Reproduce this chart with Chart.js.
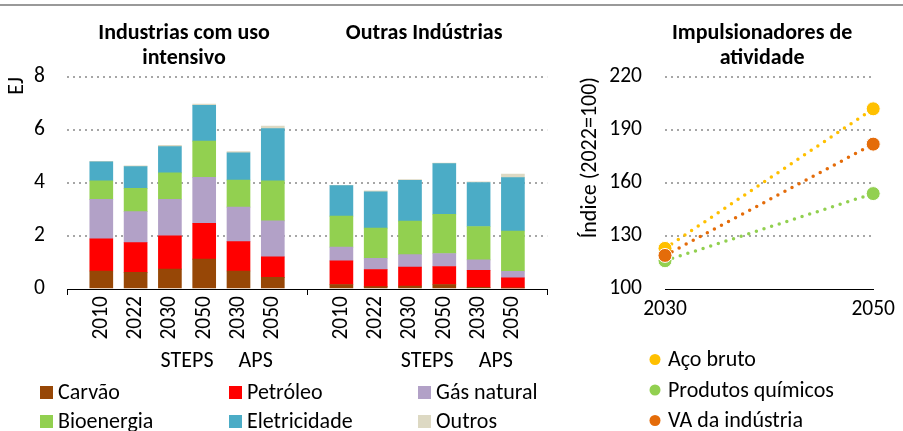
<!DOCTYPE html>
<html><head><meta charset="utf-8">
<script src="https://cdn.jsdelivr.net/npm/chart.js@4/dist/chart.umd.min.js"></script>
<style>
body{margin:0;width:903px;height:431px;overflow:hidden;background:#fff;font-family:Carlito,Lato,sans-serif;color:#000}
#topline{position:absolute;left:0;top:4px;width:903px;height:2px;background:#999;z-index:2}
canvas{position:absolute;top:0}
</style></head>
<body>
<div id="topline"></div>
<canvas id="bars" width="580" height="431" style="left:0"></canvas>
<canvas id="lines" width="343" height="431" style="left:560px"></canvas>
<script>
// ---- data ----
const categories = ['', '2010','2022','2030','2050','2030','2050','', '2010','2022','2030','2050','2030','2050',''];
const panelTitles = [['Industrias com uso','intensivo'],['Outras Indústrias']];
const panelCats = [[0,7],[7,14]];
const scenarioNames = ['STEPS','APS','STEPS','APS'];
const scenarioCats = [[3,4],[5,6],[10,11],[12,13]];
const separatorCats = [0,7,14];
const seriesNames = ['Carvão','Petróleo','Gás natural','Bioenergia','Eletricidade','Outros'];
const seriesColors = ['#974706','#FF0000','#B2A1C7','#92D050','#4BACC6','#DDD9C3'];
const carvao      = [null,0.68,0.63,0.75,1.13,0.68,0.44,null,0.17,0.09,0.11,0.17,0.06,0.04,null];
const petroleo    = [null,1.21,1.12,1.26,1.35,1.11,0.77,null,0.89,0.64,0.72,0.68,0.64,0.38,null];
const gasNatural  = [null,1.49,1.17,1.37,1.73,1.30,1.36,null,0.52,0.43,0.47,0.49,0.40,0.25,null];
const bioenergia  = [null,0.70,0.88,1.00,1.37,1.02,1.51,null,1.17,1.14,1.26,1.48,1.26,1.52,null];
const eletricidade= [null,0.72,0.82,0.99,1.35,1.03,1.97,null,1.15,1.37,1.54,1.91,1.66,2.01,null];
const outros      = [null,0.02,0.03,0.05,0.05,0.05,0.10,null,0.01,0.03,0.03,0.02,0.02,0.14,null];
const barSeries = [carvao,petroleo,gasNatural,bioenergia,eletricidade,outros];
const yTicksBars = [0,2,4,6,8];

const driverTitle = ['Impulsionadores de','atividade'];
const driverYears = ['2030','2050'];
const driverNames = ['Aço bruto','Produtos químicos','VA da indústria'];
const driverColors = ['#FFC000','#92D050','#E46C0A'];
const acoBruto = [123,202];
const produtosQuimicos = [116,154];
const vaIndustria = [119,182];
const driverSeries = [acoBruto, produtosQuimicos, vaIndustria];

// ---- chart ----
const FAM = 'Carlito, Lato, sans-serif';
Chart.defaults.font.family = FAM;
Chart.defaults.color = '#000';
const TICKFONT = {size:21.5};

const barExtras = {
  id:'barExtras',
  afterDraw(chart){
    const ctx = chart.ctx, xs = chart.scales.x, bottom = chart.chartArea.bottom;
    ctx.save();
    ctx.strokeStyle = '#000'; ctx.lineWidth = 1;
    separatorCats.forEach(i=>{
      const x = Math.round(xs.getPixelForValue(i))+0.5;
      ctx.beginPath(); ctx.moveTo(x,bottom); ctx.lineTo(x,bottom+6); ctx.stroke();
    });
    ctx.fillStyle = '#000';
    ctx.textBaseline = 'alphabetic';
    ctx.font = 'bold 22px '+FAM; ctx.textAlign = 'center';
    panelTitles.forEach((lines,k)=>{
      const [a,b] = panelCats[k];
      const x = (xs.getPixelForValue(a)+xs.getPixelForValue(b))/2 - 3;
      lines.forEach((t,j)=>ctx.fillText(t, x, 38.5+j*25.5));
    });
    ctx.font = '22px '+FAM;
    scenarioNames.forEach((n,k)=>{
      const [a,b] = scenarioCats[k];
      const x = (xs.getPixelForValue(a)+xs.getPixelForValue(b))/2;
      ctx.fillText(n, x, 367);
    });
    const colX = [40,229,418], rowY = [399,428];
    ctx.textAlign = 'left';
    seriesNames.forEach((n,i)=>{
      const x = colX[i%3], y = rowY[Math.floor(i/3)];
      ctx.fillStyle = seriesColors[i];
      ctx.fillRect(x, y-13, 13, 13);
      ctx.fillStyle = '#000';
      ctx.fillText(n, x+18, y);
    });
    ctx.restore();
  }
};

new Chart(document.getElementById('bars'), {
  type:'bar',
  data:{
    labels: categories,
    datasets: barSeries.map((d,i)=>({label:seriesNames[i], data:d, backgroundColor:seriesColors[i], barThickness:23, borderWidth:0}))
  },
  options:{
    responsive:false, animation:false,
    layout:{padding:{top:77,right:23,left:0,bottom:82}},
    plugins:{legend:{display:false},tooltip:{enabled:false}},
    scales:{
      x:{stacked:true, offset:false,
        grid:{display:false, drawTicks:false},
        border:{display:true,color:'#000',width:1},
        ticks:{font:TICKFONT, minRotation:90, maxRotation:90, padding:7, autoSkip:false},
        afterFit(s){ s.height = 60; }
      },
      y:{stacked:true, min:0, max:8,
        afterBuildTicks(s){ s.ticks = yTicksBars.map(v=>({value:v})); },
        grid:{color:(c)=>c.tick && c.tick.value===yTicksBars[0] ? 'rgba(0,0,0,0)' : '#A6A6A6', lineWidth:2, drawTicks:false},
        border:{display:false, dash:[2,4]},
        ticks:{font:TICKFONT, padding:22},
        title:{display:true, text:'EJ', align:'end', font:{size:22}, padding:{top:4,bottom:0}},
        afterFit(s){ s.width = 67; }
      }
    }
  },
  plugins:[barExtras]
});

const lineExtras = {
  id:'lineExtras',
  afterDraw(chart){
    const ctx = chart.ctx, xs = chart.scales.x;
    ctx.save();
    ctx.fillStyle = '#000'; ctx.textBaseline = 'alphabetic';
    ctx.font = 'bold 22px '+FAM; ctx.textAlign = 'center';
    const cx = (xs.getPixelForValue(0)+xs.getPixelForValue(1))/2 - 7;
    driverTitle.forEach((t,j)=>ctx.fillText(t, cx, 38.5+j*25.5));
    ctx.font = '22px '+FAM; ctx.textAlign = 'left';
    const lx = xs.getPixelForValue(0) - 10;
    driverNames.forEach((n,i)=>{
      const y = 366 + i*30.5;
      ctx.fillStyle = driverColors[i];
      ctx.beginPath(); ctx.arc(lx, y-6.5, 5.5, 0, Math.PI*2); ctx.fill();
      ctx.fillStyle = '#000';
      ctx.fillText(n, lx+13, y);
    });
    ctx.restore();
  }
};

new Chart(document.getElementById('lines'), {
  type:'line',
  data:{
    labels: driverYears,
    datasets: driverSeries.map((d,i)=>({label:driverNames[i], data:d, borderColor:driverColors[i], backgroundColor:driverColors[i],
      borderWidth:3.5, borderDash:[0,8], borderCapStyle:'round', pointRadius:7, pointBorderColor:'#fff', pointBorderWidth:1,
      order: i===2 ? 0 : (i===1 ? 1 : 2), clip:false}))
  },
  options:{
    responsive:false, animation:false,
    layout:{padding:{top:77,right:26,left:0,bottom:102}},
    plugins:{legend:{display:false},tooltip:{enabled:false}},
    scales:{
      x:{offset:false, grid:{display:false, drawTicks:false},
        border:{display:true,color:'#000',width:1},
        ticks:{font:TICKFONT, padding:8, maxRotation:0},
        afterFit(s){ s.height = 40; }
      },
      y:{min:100, max:220,
        ticks:{stepSize:30, font:TICKFONT, padding:23},
        grid:{color:(c)=>c.tick && c.tick.value===100 ? 'rgba(0,0,0,0)' : '#A6A6A6', lineWidth:2, drawTicks:false},
        border:{display:false, dash:[2,4]},
        title:{display:true, text:'Índice (2022=100)', align:'end', font:{size:22}, padding:{top:17,bottom:0}},
        afterFit(s){ s.width = 105; }
      }
    }
  },
  plugins:[lineExtras]
});
</script>
</body></html>
